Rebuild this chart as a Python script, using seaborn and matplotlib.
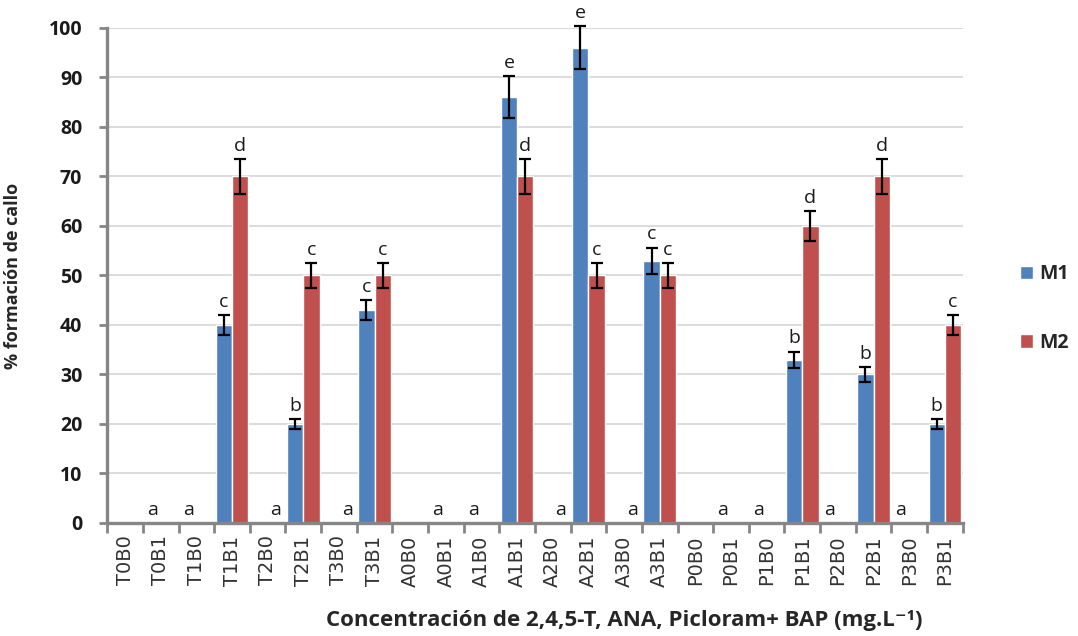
import numpy as np
import pandas as pd
import matplotlib
matplotlib.use("Agg")
import matplotlib.pyplot as plt
from matplotlib.ticker import FixedLocator, MultipleLocator
import seaborn as sns

# data
tratamientos = ["T0B0", "T0B1", "T1B0", "T1B1", "T2B0", "T2B1", "T3B0", "T3B1",
                "A0B0", "A0B1", "A1B0", "A1B1", "A2B0", "A2B1", "A3B0", "A3B1",
                "P0B0", "P0B1", "P1B0", "P1B1", "P2B0", "P2B1", "P3B0", "P3B1"]
m1 = [0, 0, 0, 40, 0, 20, 0, 43, 0, 0, 0, 86, 0, 96, 0, 53, 0, 0, 0, 33, 0, 30, 0, 20]
m1_err = [0, 0, 0, 2, 0, 1, 0, 2, 0, 0, 0, 4.2, 0, 4.3, 0, 2.6, 0, 0, 0, 1.6, 0, 1.5, 0, 1]
m2 = [0, 0, 0, 70, 0, 50, 0, 50, 0, 0, 0, 70, 0, 50, 0, 50, 0, 0, 0, 60, 0, 70, 0, 40]
m2_err = [0, 0, 0, 3.5, 0, 2.5, 0, 2.5, 0, 0, 0, 3.5, 0, 2.5, 0, 2.5, 0, 0, 0, 3, 0, 3.5, 0, 2]
# significance letters (Tukey groups)
m1_let = ["", "a", "a", "c", "", "b", "", "c", "", "a", "a", "e", "", "e", "", "c",
          "", "a", "a", "b", "a", "b", "a", "b"]
m2_let = ["", "", "", "d", "a", "c", "a", "c", "", "", "", "d", "a", "c", "a", "c",
          "", "", "", "d", "", "d", "", "c"]
medios = ["M1", "M2"]

df = pd.DataFrame({
    "tratamiento": tratamientos * 2,
    "medio": ["M1"] * len(tratamientos) + ["M2"] * len(tratamientos),
    "valor": m1 + m2,
})

sns.set_style("white")
plt.rcParams["font.family"] = ["Open Sans", "DejaVu Sans"]

fig = plt.figure(figsize=(10.78, 6.36), dpi=100)
ax = fig.add_axes([0.0995, 0.1777, 0.7935, 0.7783])

sns.barplot(data=df, x="tratamiento", y="valor", hue="medio", hue_order=medios,
            palette=["#4F81BD", "#C0504D"], saturation=1, width=0.913,
            errorbar=None, ax=ax)

# error bars and letters on top of each bar
for cont, vals, errs, lets in zip(ax.containers, [m1, m2], [m1_err, m2_err], [m1_let, m2_let]):
    xs = np.array([p.get_x() + p.get_width() / 2 for p in cont])
    vals = np.array(vals)
    errs = np.array(errs)
    has = errs > 0
    ax.errorbar(xs[has], vals[has], yerr=errs[has], fmt="none", ecolor="black",
                elinewidth=1.6, capsize=4.5, capthick=1.6, zorder=4, clip_on=False)
    for x, v, e, t in zip(xs, vals, errs, lets):
        if t:
            ax.annotate(t, (x, v + e), xytext=(0, 6), textcoords="offset points",
                        ha="center", va="baseline", fontsize=14, color="#1a1a1a",
                        annotation_clip=False)

ax.set_ylim(0, 100)
ax.set_xlim(-0.5, len(tratamientos) - 0.5)
ax.yaxis.set_major_locator(MultipleLocator(10))
ax.grid(axis="y", color="#d9d9d9", linewidth=1.3)
ax.set_axisbelow(True)

for s in ["top", "right"]:
    ax.spines[s].set_visible(False)
for s in ["left", "bottom"]:
    ax.spines[s].set_color("#868686")
    ax.spines[s].set_linewidth(2.4)

ax.tick_params(axis="y", length=6, width=2, color="#868686", pad=12,
               labelsize=14, left=True)
for lab in ax.get_yticklabels():
    lab.set_fontweight("bold")
    lab.set_color("#1a1a1a")

ax.xaxis.set_minor_locator(FixedLocator(np.arange(-0.5, len(tratamientos), 1.0)))
ax.tick_params(axis="x", which="minor", length=7, width=2, color="#868686", bottom=True)
ax.tick_params(axis="x", which="major", length=0, pad=9)
ax.set_xticks(range(len(tratamientos)))
ax.set_xticklabels(tratamientos, rotation=90, fontsize=14, family="DejaVu Sans",
                   color="#333333", va="top")

ax.set_xlabel("")
ax.set_ylabel("% formación de callo", fontsize=13, fontweight="bold", labelpad=14)
ax.yaxis.set_label_coords(-0.1, 0.5)
fig.text(0.579, 0.025, "Concentración de 2,4,5-T, ANA, Picloram+ BAP (mg.L⁻¹)",
         ha="center", va="center", fontsize=16, fontweight="bold")

leg = ax.legend(loc="center left", bbox_to_anchor=(0.946, 0.515),
                bbox_transform=fig.transFigure, frameon=False, title=None,
                handlelength=0.7, handleheight=0.7, handletextpad=0.3,
                labelspacing=2.5, borderpad=0, borderaxespad=0,
                prop={"size": 14, "weight": "bold"})

fig.savefig("out.png", dpi=100)
